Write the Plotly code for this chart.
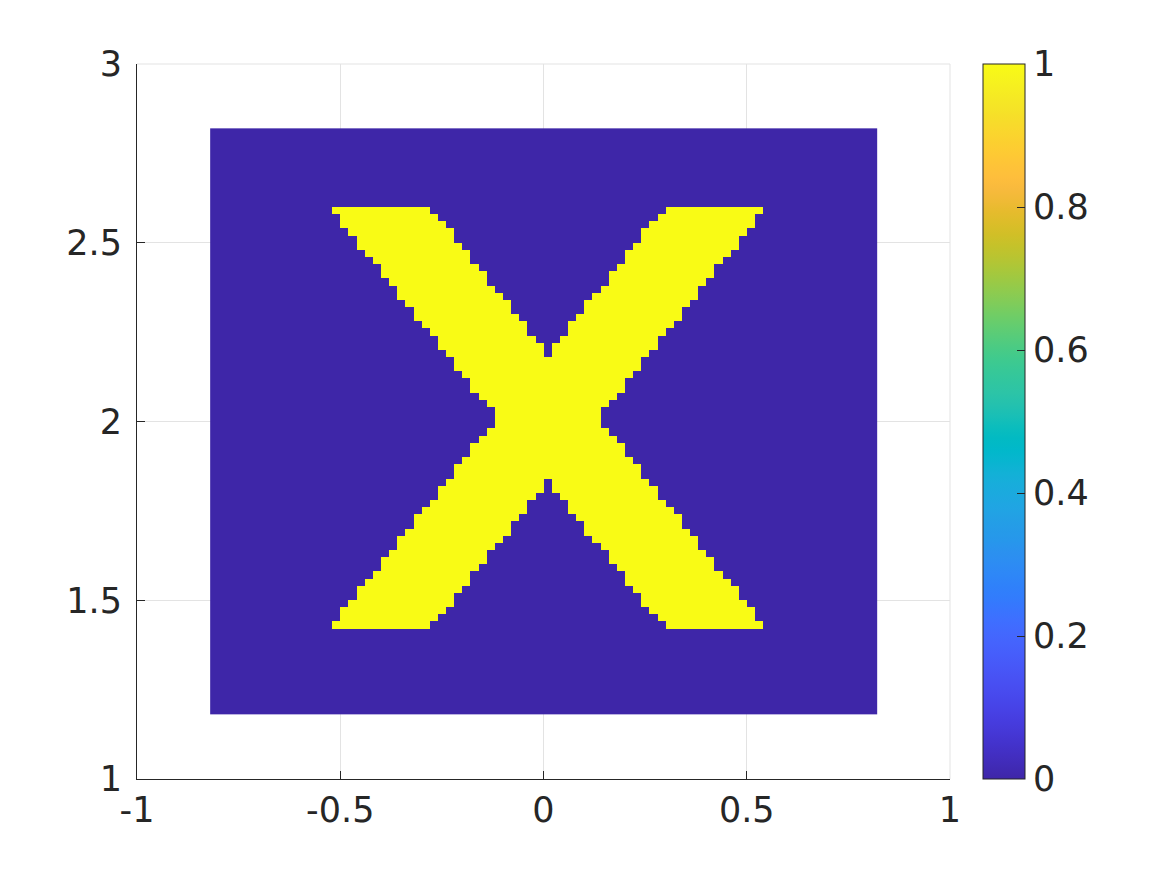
import numpy as np
import plotly.graph_objects as go

# ---- grid (image extent) ----
x_min, x_max = -0.82, 0.82
y_min, y_max = 1.18, 2.82
n_cols = 82
n_rows = 82

# ---- X shape: rows counted from the top of the image ----
yellow_rows = list(range(11, 70))
left_start = [15, 16, 16, 17, 18, 18, 19, 20, 21, 21, 22, 23, 23, 24, 25, 25, 26, 27, 28, 28,
              29, 30, 30, 31, 32, 32, 33, 34, 35, 35,
              35, 34, 33, 32, 32, 31, 30, 30, 29, 28, 28, 27, 26, 25, 25, 24, 23, 23, 22, 21,
              21, 20, 19, 18, 18, 17, 16, 16, 15]
left_end = [26, 27, 28, 29, 29, 30, 31, 31, 32, 33, 33, 34, 35, 36, 36, 37, 38, 38, 39, 40, 40] \
    + [None] * 17 + \
    [40, 40, 39, 38, 38, 37, 36, 36, 35, 34, 33, 33, 32, 31, 31, 30, 29, 29, 28, 27, 26]
right_start = [56, 55, 54, 53, 53, 52, 51, 51, 50, 49, 49, 48, 47, 46, 46, 45, 44, 44, 43, 42, 42] \
    + [None] * 17 + \
    [42, 42, 43, 44, 44, 45, 46, 46, 47, 48, 49, 49, 50, 51, 51, 52, 53, 53, 54, 55, 56]
right_end = [67, 66, 66, 65, 64, 64, 63, 62, 61, 61, 60, 59, 59, 58, 57, 57, 56, 55, 54, 54,
             53, 52, 52, 51, 50, 50, 49, 48, 47, 47,
             47, 48, 49, 50, 50, 51, 52, 52, 53, 54, 54, 55, 56, 57, 57, 58, 59, 59, 60, 61,
             61, 62, 63, 64, 64, 65, 66, 66, 67]

x_ticks = [-1, -0.5, 0, 0.5, 1]
x_tick_text = ['-1', '-0.5', '0', '0.5', '1']
y_ticks = [1, 1.5, 2, 2.5, 3]
y_tick_text = ['1', '1.5', '2', '2.5', '3']
cb_ticks = [0, 0.2, 0.4, 0.6, 0.8, 1]
cb_tick_text = ['0', '0.2', '0.4', '0.6', '0.8', '1']

parula = [
    [0.2422, 0.1504, 0.6603], [0.2504, 0.1650, 0.7076], [0.2578, 0.1818, 0.7511], [0.2647, 0.1978, 0.7952],
    [0.2706, 0.2147, 0.8364], [0.2751, 0.2342, 0.8710], [0.2783, 0.2559, 0.8991], [0.2803, 0.2782, 0.9221],
    [0.2813, 0.3006, 0.9414], [0.2810, 0.3228, 0.9579], [0.2795, 0.3447, 0.9717], [0.2760, 0.3667, 0.9829],
    [0.2699, 0.3892, 0.9906], [0.2602, 0.4123, 0.9952], [0.2440, 0.4358, 0.9988], [0.2206, 0.4603, 0.9973],
    [0.1963, 0.4847, 0.9892], [0.1834, 0.5074, 0.9798], [0.1786, 0.5289, 0.9682], [0.1764, 0.5499, 0.9520],
    [0.1687, 0.5703, 0.9359], [0.1540, 0.5902, 0.9218], [0.1460, 0.6091, 0.9079], [0.1380, 0.6276, 0.8973],
    [0.1248, 0.6459, 0.8883], [0.1113, 0.6635, 0.8763], [0.0952, 0.6798, 0.8598], [0.0689, 0.6948, 0.8394],
    [0.0297, 0.7082, 0.8163], [0.0036, 0.7203, 0.7917], [0.0067, 0.7312, 0.7660], [0.0433, 0.7411, 0.7394],
    [0.0964, 0.7500, 0.7120], [0.1408, 0.7584, 0.6842], [0.1717, 0.7670, 0.6554], [0.1938, 0.7758, 0.6251],
    [0.2161, 0.7843, 0.5923], [0.2470, 0.7918, 0.5567], [0.2906, 0.7973, 0.5188], [0.3406, 0.8008, 0.4789],
    [0.3909, 0.8029, 0.4354], [0.4456, 0.8024, 0.3909], [0.5044, 0.7993, 0.3480], [0.5616, 0.7942, 0.3045],
    [0.6174, 0.7876, 0.2612], [0.6720, 0.7793, 0.2227], [0.7242, 0.7698, 0.1910], [0.7738, 0.7598, 0.1646],
    [0.8203, 0.7498, 0.1535], [0.8634, 0.7406, 0.1596], [0.9035, 0.7330, 0.1774], [0.9393, 0.7288, 0.2100],
    [0.9728, 0.7298, 0.2394], [0.9956, 0.7434, 0.2371], [0.9970, 0.7659, 0.2199], [0.9952, 0.7893, 0.2028],
    [0.9892, 0.8136, 0.1885], [0.9786, 0.8386, 0.1766], [0.9676, 0.8639, 0.1643], [0.9610, 0.8890, 0.1537],
    [0.9597, 0.9135, 0.1423], [0.9628, 0.9373, 0.1265], [0.9691, 0.9606, 0.1064], [0.9769, 0.9839, 0.0805],
]
colorscale = [[i / (len(parula) - 1), 'rgb(%d,%d,%d)' % tuple(round(v * 255) for v in c)]
              for i, c in enumerate(parula)]

# ---- build matrix ----
z = np.zeros((n_rows, n_cols))
for r, ls, le, rs, re in zip(yellow_rows, left_start, left_end, right_start, right_end):
    if le is None:
        z[r, ls:re + 1] = 1
    else:
        z[r, ls:le + 1] = 1
        z[r, rs:re + 1] = 1

dx = (x_max - x_min) / n_cols
dy = (y_max - y_min) / n_rows
xc = x_min + dx * (np.arange(n_cols) + 0.5)
yc = y_max - dy * (np.arange(n_rows) + 0.5)

FONT = 'DejaVu Sans'
TXT = '#262626'
GRID = '#E3E3E3'

# page body has an 8px margin; plot area target: x 137..950, y 64..779
ML, MT = 129, 56
PW, PH = 813, 715

fig = go.Figure()
fig.add_trace(go.Heatmap(
    x=xc, y=yc, z=z, zmin=0, zmax=1, colorscale=colorscale, zsmooth=False,
    hoverinfo='skip',
    colorbar=dict(
        thickness=42, thicknessmode='pixels', len=715, lenmode='pixels',
        x=(983 - 137) / PW, xanchor='left', xpad=0, y=0.5, yanchor='middle', ypad=0,
        outlinewidth=1, outlinecolor=TXT,
        tickmode='array', tickvals=cb_ticks, ticktext=cb_tick_text,
        ticks='inside', ticklen=8, tickcolor=TXT, tickwidth=1,
        tickfont=dict(family=FONT, size=35, color=TXT),
    ),
))

fig.update_layout(
    width=1167, height=875,
    margin=dict(l=ML, r=1167 - ML - PW, t=MT, b=875 - MT - PH, pad=0),
    paper_bgcolor='white', plot_bgcolor='white',
    showlegend=False,
    xaxis=dict(
        range=[-1, 1], tickmode='array', tickvals=x_ticks, ticktext=x_tick_text,
        ticks='inside', ticklen=8, tickcolor=TXT, tickwidth=1,
        showline=True, linecolor=TXT, linewidth=1,
        showgrid=True, gridcolor=GRID, gridwidth=1, zeroline=False,
        tickfont=dict(family=FONT, size=35, color=TXT),
    ),
    yaxis=dict(
        range=[1, 3], tickmode='array', tickvals=y_ticks, ticktext=y_tick_text,
        ticks='inside', ticklen=8, tickcolor=TXT, tickwidth=1,
        showline=True, linecolor=TXT, linewidth=1,
        showgrid=True, gridcolor=GRID, gridwidth=1, zeroline=False,
        ticklabelstandoff=7,
        tickfont=dict(family=FONT, size=35, color=TXT),
    ),
    shapes=[
        dict(type='line', xref='paper', yref='paper', x0=0, x1=1, y0=1, y1=1,
             line=dict(color=GRID, width=1), layer='below'),
        dict(type='line', xref='paper', yref='paper', x0=1, x1=1, y0=0, y1=1,
             line=dict(color=GRID, width=1), layer='below'),
    ],
)

fig.write_html('out.html')
